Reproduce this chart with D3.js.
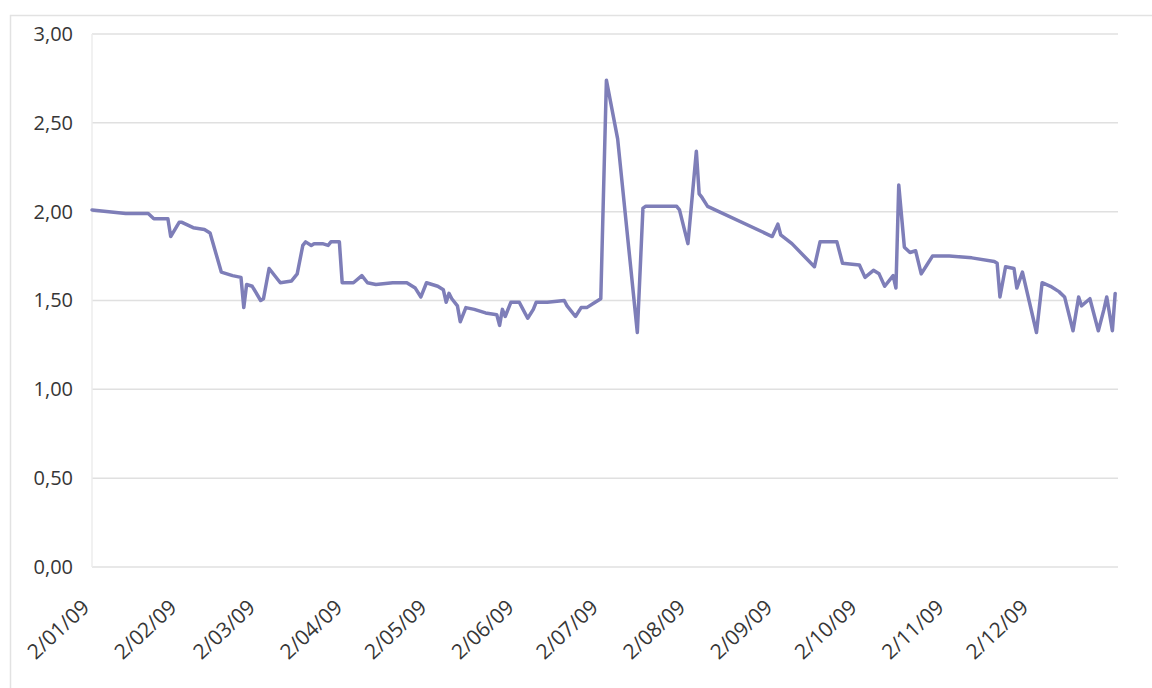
<!DOCTYPE html>
<html>
<head>
<meta charset="utf-8">
<script src="https://cdn.jsdelivr.net/npm/d3@7/dist/d3.min.js"></script>
<style>
  html, body { margin: 0; padding: 0; background: #ffffff; }
  svg { display: block; }
  text { font-family: "Open Sans", "Noto Sans", sans-serif; fill: #363636; }
</style>
</head>
<body>
<svg id="chart" width="1152" height="688"></svg>
<script>
// Daily observations for 2009
const dates = [
  "2009-01-02","2009-01-08","2009-01-14","2009-01-19","2009-01-22","2009-01-24","2009-01-29","2009-01-30",
  "2009-02-02","2009-02-03","2009-02-07","2009-02-11","2009-02-13","2009-02-17","2009-02-21","2009-02-24",
  "2009-02-25","2009-02-26","2009-02-28","2009-03-03","2009-03-04","2009-03-06","2009-03-10","2009-03-14",
  "2009-03-16","2009-03-18","2009-03-19","2009-03-21","2009-03-22","2009-03-25","2009-03-27","2009-03-28",
  "2009-03-31","2009-04-01","2009-04-05","2009-04-08","2009-04-10","2009-04-13","2009-04-19","2009-04-24",
  "2009-04-27","2009-04-29","2009-05-01","2009-05-05","2009-05-07","2009-05-08","2009-05-09","2009-05-10",
  "2009-05-12","2009-05-13","2009-05-15","2009-05-18","2009-05-22","2009-05-26","2009-05-27","2009-05-28",
  "2009-05-29","2009-05-31","2009-06-03","2009-06-04","2009-06-06","2009-06-08","2009-06-09","2009-06-13",
  "2009-06-19","2009-06-20","2009-06-23","2009-06-25","2009-06-27","2009-06-30","2009-07-02","2009-07-04",
  "2009-07-08","2009-07-15","2009-07-17","2009-07-18","2009-07-29","2009-07-30","2009-08-02","2009-08-05",
  "2009-08-06","2009-08-07","2009-08-09","2009-09-01","2009-09-03","2009-09-04","2009-09-08","2009-09-16",
  "2009-09-18","2009-09-24","2009-09-26","2009-10-02","2009-10-04","2009-10-07","2009-10-09","2009-10-11",
  "2009-10-14","2009-10-15","2009-10-16","2009-10-18","2009-10-20","2009-10-22","2009-10-24","2009-10-26",
  "2009-10-28","2009-11-03","2009-11-11","2009-11-19","2009-11-20","2009-11-21","2009-11-23","2009-11-26",
  "2009-11-27","2009-11-29","2009-12-04","2009-12-06","2009-12-09","2009-12-12","2009-12-14","2009-12-17",
  "2009-12-19","2009-12-20","2009-12-23","2009-12-26","2009-12-28","2009-12-29","2009-12-31","2010-01-01"
];

const values = [
  2.01, 2.00, 1.99, 1.99, 1.99, 1.96, 1.96, 1.86,
  1.94, 1.94, 1.91, 1.90, 1.88, 1.66, 1.64, 1.63,
  1.46, 1.59, 1.58, 1.50, 1.51, 1.68, 1.60, 1.61,
  1.65, 1.81, 1.83, 1.81, 1.82, 1.82, 1.81, 1.83,
  1.83, 1.60, 1.60, 1.64, 1.60, 1.59, 1.60, 1.60,
  1.57, 1.52, 1.60, 1.58, 1.56, 1.49, 1.54, 1.51,
  1.47, 1.38, 1.46, 1.45, 1.43, 1.42, 1.36, 1.45,
  1.41, 1.49, 1.49, 1.46, 1.40, 1.45, 1.49, 1.49,
  1.50, 1.47, 1.41, 1.46, 1.46, 1.49, 1.51, 2.74,
  2.41, 1.32, 2.02, 2.03, 2.03, 2.01, 1.82, 2.34,
  2.10, 2.08, 2.03, 1.86, 1.93, 1.87, 1.82, 1.69,
  1.83, 1.83, 1.71, 1.70, 1.63, 1.67, 1.65, 1.58,
  1.64, 1.57, 2.15, 1.80, 1.77, 1.78, 1.65, 1.70,
  1.75, 1.75, 1.74, 1.72, 1.71, 1.52, 1.69, 1.68,
  1.57, 1.66, 1.32, 1.60, 1.58, 1.55, 1.52, 1.33,
  1.52, 1.47, 1.51, 1.33, 1.45, 1.52, 1.33, 1.54
];

// Axis ticks
const xTickDates = [
  "2009-01-02","2009-02-02","2009-03-02","2009-04-02","2009-05-02","2009-06-02",
  "2009-07-02","2009-08-02","2009-09-02","2009-10-02","2009-11-02","2009-12-02"
];
const yTicks = [0, 0.5, 1, 1.5, 2, 2.5, 3];

const parse = d3.timeParse("%Y-%m-%d");
const fmtDate = d3.timeFormat("%-d/%m/%y");
const fmtVal = v => d3.format(".2f")(v).replace(".", ",");

const svg = d3.select("#chart");
const W = 1152, H = 688;
const plot = { left: 92, right: 1118, top: 34, bottom: 567 };

svg.append("rect").attr("width", W).attr("height", H).attr("fill", "#ffffff");

// Chart frame
svg.append("rect")
  .attr("x", 10.5).attr("y", 15.5)
  .attr("width", W + 20).attr("height", H + 20)
  .attr("fill", "none").attr("stroke", "#e2e2e2").attr("stroke-width", 1.5);

const x = d3.scaleTime()
  .domain([parse("2009-01-02"), parse("2010-01-02")])
  .range([plot.left, plot.right]);

const y = d3.scaleLinear()
  .domain([0, 3])
  .range([plot.bottom, plot.top]);

// Horizontal gridlines
svg.append("g")
  .selectAll("line")
  .data(yTicks)
  .join("line")
  .attr("x1", plot.left).attr("x2", plot.right)
  .attr("y1", d => y(d)).attr("y2", d => y(d))
  .attr("stroke", "#e0e0e0").attr("stroke-width", 1.5);

// Left edge of the plot area
svg.append("line")
  .attr("x1", plot.left).attr("x2", plot.left)
  .attr("y1", plot.top).attr("y2", plot.bottom)
  .attr("stroke", "#ececec").attr("stroke-width", 1.5);

// Y axis labels
const yAxis = d3.axisLeft(y).tickValues(yTicks).tickFormat(fmtVal).tickSize(0).tickPadding(19);
const gy = svg.append("g").attr("transform", `translate(${plot.left},0)`).call(yAxis);
gy.select(".domain").remove();
gy.selectAll("text").attr("font-size", 20).attr("fill", "#363636")
  .attr("font-family", "'Open Sans', sans-serif");

// X axis labels, rotated
const xAxis = d3.axisBottom(x).tickValues(xTickDates.map(parse)).tickFormat(fmtDate).tickSize(0).tickPadding(0);
const gx = svg.append("g").attr("transform", `translate(0,${plot.bottom})`).call(xAxis);
gx.select(".domain").remove();
gx.selectAll("text")
  .attr("font-size", 21).attr("fill", "#363636")
  .attr("font-family", "'Open Sans', sans-serif")
  .attr("text-anchor", "end")
  .attr("y", 0).attr("dy", "0.72em")
  .attr("transform", "translate(-12,31) rotate(-43)");

// Series line
const series = dates.map((d, i) => ({ date: parse(d), value: values[i] }));
const line = d3.line().x(d => x(d.date)).y(d => y(d.value));
svg.append("path")
  .datum(series)
  .attr("d", line)
  .attr("fill", "none")
  .attr("stroke", "#7e7eb8")
  .attr("stroke-width", 3.5)
  .attr("stroke-linejoin", "round")
  .attr("stroke-linecap", "round");
</script>
</body>
</html>
